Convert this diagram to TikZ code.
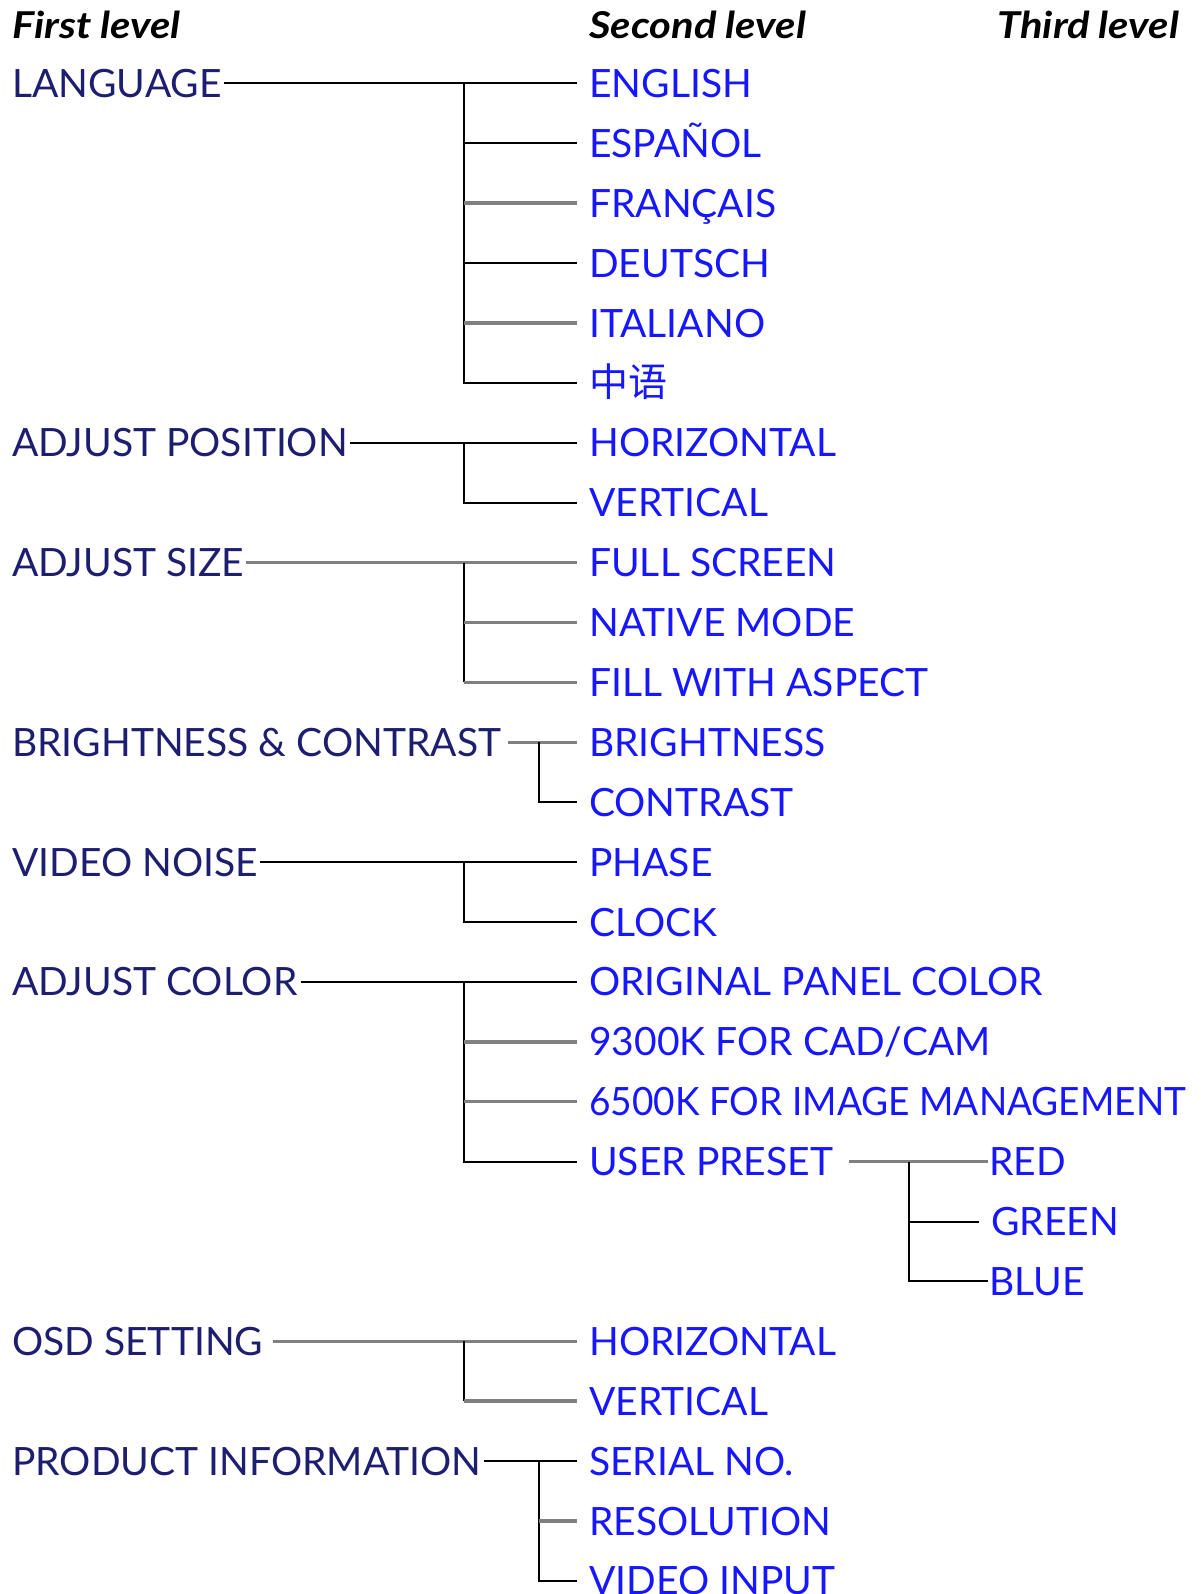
\documentclass[tikz,border=0pt]{standalone}
\usepackage{fontspec}
\setmainfont{Lato}
\newfontfamily\cjk{Noto Sans CJK SC}
\definecolor{navy}{RGB}{30,30,112}
\definecolor{menublue}{RGB}{22,22,255}
\definecolor{linegray}{RGB}{128,128,128}
\newcommand{\hdrtext}[1]{\scalebox{1.13}[1]{#1}}
\begin{document}
\begin{tikzpicture}[x=1pt,y=-1pt,
  lvl1/.style={anchor=west, inner sep=0pt, text height=28pt, text depth=0pt, font=\fontsize{39}{39}\selectfont, text=navy},
  lvl2/.style={anchor=west, inner sep=0pt, text height=28pt, text depth=0pt, font=\fontsize{39}{39}\selectfont, text=menublue},
  hdr/.style={anchor=west, inner sep=0pt, text height=27pt, text depth=0pt, font=\fontsize{37}{37}\selectfont\bfseries\itshape, text=black},
  bk/.style={draw=black, line width=2pt},
  gr/.style={draw=linegray, line width=3.5pt},
  tochild/.style={shorten >=12pt},
  fromparent/.style={shorten <=2pt}]
\useasboundingbox (0,0) rectangle (1203,1594);

% headers
\node[hdr] (h1) at (12,25.5) {\hdrtext{First level}};
\node[hdr] (h2) at (589,25.5) {\hdrtext{Second level}};
\node[hdr] (h3) at (997,25.5) {\hdrtext{Third level}};

% first level
\node[lvl1] (lang) at (12,83.4) {LANGUAGE};
\node[lvl1] (apos) at (12,442.8) {ADJUST POSITION};
\node[lvl1] (asize) at (12,562.6) {ADJUST SIZE};
\node[lvl1] (bc) at (12,742.3) {BRIGHTNESS \& CONTRAST};
\node[lvl1] (vn) at (12,862.1) {VIDEO NOISE};
\node[lvl1] (acol) at (12,981.9) {ADJUST COLOR};
\node[lvl1] (osd) at (12,1341.3) {OSD SETTING};
\node[lvl1] (pinfo) at (12,1461.1) {PRODUCT INFORMATION};

% second level
\node[lvl2] (eng) at (589,83.4) {ENGLISH};
\node[lvl2] (esp) at (589,143.3) {ESPAÑOL};
\node[lvl2] (fra) at (589,203.2) {FRANÇAIS};
\node[lvl2] (deu) at (589,263.1) {DEUTSCH};
\node[lvl2] (ita) at (589,323.0) {ITALIANO};
\node[lvl2] (zh) at (589,382.9) {\cjk 中语};
\node[lvl2] (hor) at (589,442.8) {HORIZONTAL};
\node[lvl2] (ver) at (589,502.7) {VERTICAL};
\node[lvl2] (full) at (589,562.6) {FULL SCREEN};
\node[lvl2] (nat) at (589,622.5) {NATIVE MODE};
\node[lvl2] (fill) at (589,682.4) {FILL WITH ASPECT};
\node[lvl2] (bri) at (589,742.3) {BRIGHTNESS};
\node[lvl2] (con) at (589,802.2) {CONTRAST};
\node[lvl2] (pha) at (589,862.1) {PHASE};
\node[lvl2] (clk) at (589,922.0) {CLOCK};
\node[lvl2] (orig) at (589,981.9) {ORIGINAL PANEL COLOR};
\node[lvl2] (k93) at (589,1041.8) {9300K FOR CAD/CAM};
\node[lvl2] (k65) at (589,1101.7) {\scalebox{0.95}[1]{6500K FOR IMAGE MANAGEMENT}};
\node[lvl2] (user) at (589,1161.6) {USER PRESET};
\node[lvl2] (ohor) at (589,1341.3) {HORIZONTAL};
\node[lvl2] (over) at (589,1401.2) {VERTICAL};
\node[lvl2] (ser) at (589,1461.1) {SERIAL NO.};
\node[lvl2] (res) at (589,1521.0) {RESOLUTION};
\node[lvl2] (vin) at (589,1580.9) {VIDEO INPUT};

% third level
\node[lvl2] (red) at (989,1161.6) {RED};
\node[lvl2] (grn) at (991,1221.5) {GREEN};
\node[lvl2] (blu) at (989,1281.4) {BLUE};

% junctions
\coordinate (jLang) at (464,83.4);
\coordinate (jPos) at (464,442.8);
\coordinate (jSize) at (464,562.6);
\coordinate (jBC) at (539,742.3);
\coordinate (jVN) at (464,862.1);
\coordinate (jCol) at (464,981.9);
\coordinate (jUser) at (909,1161.6);
\coordinate (jOSD) at (464,1341.3);
\coordinate (jPI) at (539,1461.1);

% LANGUAGE
\draw[bk,fromparent,tochild] (lang.east) -- (eng.west);
\draw[bk,tochild] (jLang) |- (zh.west);
\draw[bk,tochild] (jLang |- esp.west) -- (esp.west);
\draw[gr,tochild] (jLang |- fra.west) -- (fra.west);
\draw[bk,tochild] (jLang |- deu.west) -- (deu.west);
\draw[gr,tochild] (jLang |- ita.west) -- (ita.west);

% ADJUST POSITION
\draw[bk,fromparent,tochild] (apos.east) -- (hor.west);
\draw[bk,tochild] (jPos) |- (ver.west);

% ADJUST SIZE
\draw[gr,fromparent,tochild] (asize.east) -- (full.west);
\draw[bk] (jSize) -- (jSize |- fill.west);
\draw[gr,tochild] (jSize |- nat.west) -- (nat.west);
\draw[gr,tochild] (jSize |- fill.west) -- (fill.west);

% BRIGHTNESS & CONTRAST
\draw[gr,shorten <=7pt,tochild] (bc.east) -- (bri.west);
\draw[bk,tochild] (jBC) |- (con.west);

% VIDEO NOISE
\draw[bk,fromparent,tochild] (vn.east) -- (pha.west);
\draw[bk,tochild] (jVN) |- (clk.west);

% ADJUST COLOR
\draw[bk,shorten <=4pt,tochild] (acol.east) -- (orig.west);
\draw[bk,tochild] (jCol) |- (user.west);
\draw[gr,tochild] (jCol |- k93.west) -- (k93.west);
\draw[gr,tochild] (jCol |- k65.west) -- (k65.west);

% USER PRESET
\draw[gr,shorten <=16pt,shorten >=1pt] (user.east) -- (red.west);
\draw[bk,shorten >=1pt] (jUser) |- (blu.west);
\draw[bk,shorten >=12pt] (jUser |- grn.west) -- (grn.west);

% OSD SETTING
\draw[gr,shorten <=10pt,tochild] (osd.east) -- (ohor.west);
\draw[bk] (jOSD) -- (jOSD |- over.west);
\draw[gr,tochild] (jOSD |- over.west) -- (over.west);

% PRODUCT INFORMATION
\draw[bk,fromparent,tochild] (pinfo.east) -- (ser.west);
\draw[bk,tochild] (jPI) |- (vin.west);
\draw[gr,tochild] (jPI |- res.west) -- (res.west);
\end{tikzpicture}
\end{document}
